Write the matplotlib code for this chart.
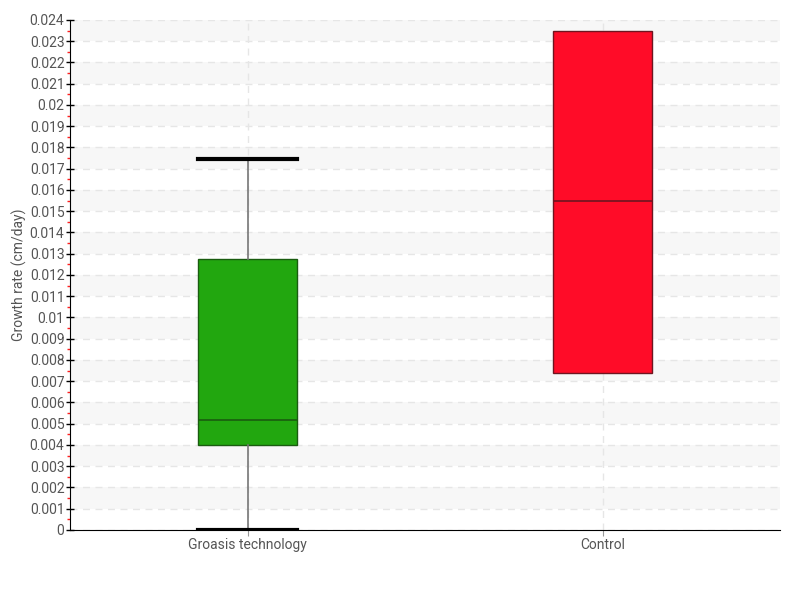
import matplotlib.pyplot as plt
import numpy as np
from matplotlib.ticker import MultipleLocator, FuncFormatter

# Box statistics
categories = ["Groasis technology", "Control"]
whisker_low = [0.0, 0.0074]
q1 = [0.0040, 0.0074]
median = [0.00518, 0.0155]
q3 = [0.01275, 0.0235]
whisker_high = [0.01745, 0.0235]
box_colors = ["#22a70f", "#ff0c28"]
edge_colors = ["#1a5c10", "#6e1520"]

plt.rcParams["font.family"] = ["Roboto", "DejaVu Sans"]

fig = plt.figure(figsize=(8, 6), dpi=100)
ax = fig.add_axes([0.0875, 0.1167, 0.8875, 0.85])

ymax = 0.024
step = 0.001

# alternating bands
for k in range(int(round(ymax / step))):
    if k % 2 == 1:
        ax.axhspan(k * step, (k + 1) * step, color="#f7f7f7", zorder=0, lw=0)

stats = []
for i, name in enumerate(categories):
    stats.append({
        "label": name,
        "whislo": whisker_low[i],
        "q1": q1[i],
        "med": median[i],
        "q3": q3[i],
        "whishi": whisker_high[i],
        "fliers": [],
    })

bp = ax.bxp(stats, positions=range(len(categories)), widths=0.28,
            capwidths=0.28, patch_artist=True, showfliers=False, zorder=3)
for i, box in enumerate(bp["boxes"]):
    box.set_facecolor(box_colors[i])
    box.set_edgecolor(edge_colors[i])
    box.set_linewidth(1)
for i, med in enumerate(bp["medians"]):
    med.set_color(edge_colors[i])
    med.set_linewidth(1.2)
for w in bp["whiskers"]:
    w.set_color("#777777")
    w.set_linewidth(1.2)
for i, c in enumerate(bp["caps"]):
    idx = i // 2
    if whisker_low[idx] == q1[idx] and whisker_high[idx] == q3[idx]:
        c.set_visible(False)
    else:
        c.set_color("black")
        c.set_linewidth(3)

ax.set_xlim(-0.5, len(categories) - 0.5)
ax.set_ylim(0, ymax)

ax.yaxis.set_major_locator(MultipleLocator(step))
ax.yaxis.set_minor_locator(MultipleLocator(step / 2))
ax.yaxis.set_major_formatter(FuncFormatter(lambda v, p: "%g" % round(v, 4)))

ax.grid(axis="y", which="major", color="#e6e6e6", linestyle=(0, (5, 4)), lw=1, zorder=1)
ax.grid(axis="x", which="major", color="#e6e6e6", linestyle=(0, (5, 4)), lw=1, zorder=1)
ax.set_axisbelow(True)

ax.tick_params(axis="y", which="major", direction="inout", length=6, width=1,
               color="black", labelsize=10, labelcolor="#555555", pad=1)
ax.tick_params(axis="y", which="minor", direction="out", length=2.5, width=1,
               color="#ff2020")
ax.tick_params(axis="x", which="major", direction="out", length=4, color="#999999",
               labelsize=10, labelcolor="#555555", pad=2)

for s in ["top", "right"]:
    ax.spines[s].set_visible(False)
ax.spines["left"].set_color("black")
ax.spines["bottom"].set_color("black")

ax.set_ylabel("Growth rate (cm/day)", fontsize=10, color="#555555", labelpad=2)

fig.savefig("out.png", dpi=100)
